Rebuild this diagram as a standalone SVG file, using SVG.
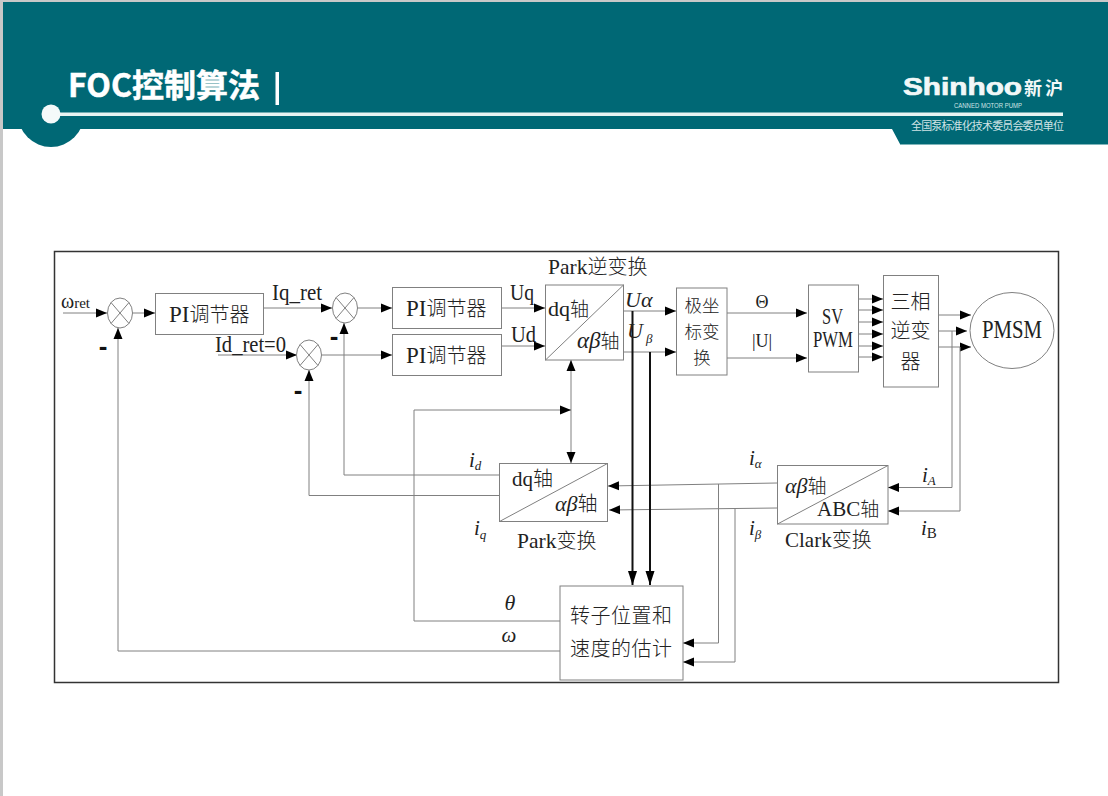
<svg xmlns="http://www.w3.org/2000/svg" width="1108" height="796" viewBox="0 0 1108 796">
<style>
.cn{fill:none;stroke:#808080;stroke-width:1}
.ar{marker-end:url(#a)}
.bk{fill:none;stroke:#111;stroke-width:2;marker-end:url(#b)}
.bx{fill:#fff;stroke:#808080;stroke-width:1}
.dg{fill:none;stroke:#808080;stroke-width:1}
text{font-family:"Liberation Serif","Noto Sans CJK SC",serif;fill:#222;font-size:20px;font-weight:300}
.it{font-style:italic}
.up{font-style:normal}
.md{text-anchor:middle}
.sm{font-size:13px}
.l{font-size:23px}
.ms{font-family:"Liberation Sans",sans-serif;font-weight:bold;font-size:26px;text-anchor:middle;fill:#111}
</style>
<defs>
<marker id="a" markerUnits="userSpaceOnUse" markerWidth="12" markerHeight="10" refX="11" refY="5" orient="auto"><path d="M0 0.500L11 5L0 9.500Z" fill="#000"/></marker>
<marker id="b" markerUnits="userSpaceOnUse" markerWidth="15" markerHeight="10" refX="14" refY="5" orient="auto"><path d="M0 0.500L14 5L0 9.500Z" fill="#000"/></marker>
<marker id="s" markerUnits="userSpaceOnUse" markerWidth="12" markerHeight="10" refX="11" refY="5" orient="auto-start-reverse"><path d="M0 0.500L11 5L0 9.500Z" fill="#000"/></marker>
</defs>
<rect width="1108" height="796" fill="#fff"/>
<rect x="0" y="0" width="3" height="796" fill="#c8c8c8"/>
<rect x="0" y="0" width="1108" height="2" fill="#c8c8c8"/>
<g id="header">
<circle cx="51" cy="114" r="33" fill="#006875"/>
<path d="M3 2H1108V144H900L892 129H3Z" fill="#006875"/>
<rect x="900" y="144" width="208" height="1" fill="#7fb5ba"/>
<rect x="51" y="112.500" width="1012" height="3.500" fill="#e8f4f2"/>
<circle cx="51" cy="114" r="9.500" fill="#f4fafa"/>
<text x="68" y="97" style="font-family:'Noto Sans CJK SC','Noto Sans',sans-serif;font-weight:700;font-size:32px;fill:#fff;stroke:#fff;stroke-width:.5">FOC控制算法</text>
<rect x="275.500" y="72" width="3.500" height="33" fill="#fff"/>
<text x="903" y="95" textLength="119" lengthAdjust="spacingAndGlyphs" style="font-family:'Liberation Sans',sans-serif;font-weight:bold;font-size:24px;fill:#f2f8f8;stroke:#f2f8f8;stroke-width:.7">Shinhoo</text>
<text x="1024" y="95" textLength="39" style="font-family:'Noto Sans CJK SC',sans-serif;font-weight:700;font-size:18px;fill:#f2f8f8">新沪</text>
<text x="954" y="107.500" textLength="68" lengthAdjust="spacingAndGlyphs" style="font-family:'Liberation Sans',sans-serif;font-size:7px;font-weight:400;fill:#d0e4e6">CANNED MOTOR PUMP</text>
<text x="911" y="130" textLength="153" style="font-family:'Noto Sans CJK SC',sans-serif;font-size:11px;font-weight:400;fill:#cfe3e5">全国泵标准化技术委员会委员单位</text>
</g>
<g id="frame"><rect x="54.500" y="251.500" width="1004" height="431" fill="#fff" stroke="#333" stroke-width="1.500"/></g>
<g id="connectors">
<path class="cn ar" d="M63 313H107"/>
<path class="cn ar" d="M132 313H155"/>
<path class="cn ar" d="M264 308H332"/>
<path class="cn ar" d="M357 308H392"/>
<path class="cn ar" d="M218 355H297"/>
<path class="cn ar" d="M322 355H392"/>
<path class="cn ar" d="M501 308H545"/>
<path class="cn ar" d="M501 346H545"/>
<path class="cn ar" d="M623 311H676"/>
<path class="cn ar" d="M623 352H676"/>
<path class="cn ar" d="M727 313H807"/>
<path class="cn ar" d="M727 358H807"/>
<path class="cn ar" d="M858 299H883"/>
<path class="cn ar" d="M858 310H883"/>
<path class="cn ar" d="M858 322H883"/>
<path class="cn ar" d="M858 334H883"/>
<path class="cn ar" d="M858 346H883"/>
<path class="cn ar" d="M858 357H883"/>
<path class="cn ar" d="M938 315H971"/>
<path class="cn ar" d="M938 331H967"/>
<path class="cn ar" d="M938 347H971"/>
<path class="cn ar" d="M952 331V487.500H888"/>
<path class="cn ar" d="M960 347V511H888"/>
<path class="cn ar" d="M777 483L608 486"/>
<path class="cn ar" d="M777 508L609 510"/>
<path class="cn ar" d="M499 475H344V323"/>
<path class="cn ar" d="M499 495.500H309V370"/>
<path class="cn" d="M571 360V463" style="marker-start:url(#s);marker-end:url(#s)"/>
<path class="cn ar" d="M560 621H414V410H571"/>
<path class="cn ar" d="M560 651H118V328"/>
<path class="bk" d="M632.500 311V585"/>
<path class="bk" d="M650 352V585"/>
<path class="cn ar" d="M718.500 484V643H683"/>
<path class="cn ar" d="M735 509V662H683"/>
</g>
<g id="sum1"><ellipse class="bx" cx="120" cy="313" rx="12.500" ry="15"/><path class="dg" d="M111 302.500L129 323.500M129 302.500L111 323.500"/></g>
<g id="sum2"><ellipse class="bx" cx="345" cy="308" rx="12.500" ry="15"/><path class="dg" d="M336 297.500L354 318.500M354 297.500L336 318.500"/></g>
<g id="sum3"><ellipse class="bx" cx="309" cy="355" rx="12.500" ry="15"/><path class="dg" d="M300 344.500L318 365.500M318 344.500L300 365.500"/></g>
<g id="pi1"><rect class="bx" x="155.500" y="293.500" width="108" height="41"/><text x="169" y="322"><tspan class="l">PI</tspan>调节器</text></g>
<g id="pi2"><rect class="bx" x="392.500" y="287.500" width="109" height="41"/><text x="406" y="316"><tspan class="l">PI</tspan>调节器</text></g>
<g id="pi3"><rect class="bx" x="392.500" y="334.500" width="109" height="41"/><text x="406" y="363"><tspan class="l">PI</tspan>调节器</text></g>
<g id="parkinv"><rect class="bx" x="545.500" y="285" width="78" height="75"/><path class="dg" d="M545.500 360L623.500 285"/>
<text x="548" y="316" style="font-size:19px"><tspan style="font-size:22px">dq</tspan>轴</text><text x="577" y="348" style="font-size:19px"><tspan class="it l">αβ</tspan>轴</text></g>
<g id="polar"><rect class="bx" x="676.500" y="288" width="50.500" height="87"/>
<text class="md" x="702" y="312" style="font-size:17.500px">极坐</text><text class="md" x="702" y="338" style="font-size:17.500px">标变</text><text class="md" x="702" y="364" style="font-size:17.500px">换</text></g>
<g id="svpwm"><rect class="bx" x="808.500" y="285" width="50" height="87"/>
<text x="822" y="324" textLength="21" lengthAdjust="spacingAndGlyphs" class="l">SV</text><text x="813" y="347" textLength="40" lengthAdjust="spacingAndGlyphs" class="l">PWM</text></g>
<g id="inverter"><rect class="bx" x="883.500" y="275.500" width="55" height="111.500"/>
<text class="md" x="910.500" y="309">三相</text><text class="md" x="910.500" y="338">逆变</text><text class="md" x="910.500" y="369">器</text></g>
<g id="pmsm"><ellipse class="bx" cx="1012" cy="330.500" rx="42" ry="38"/><text x="982" y="338" textLength="60" lengthAdjust="spacingAndGlyphs" style="font-size:25px">PMSM</text></g>
<g id="park"><rect class="bx" x="499.500" y="463.500" width="108" height="58"/><path class="dg" d="M499.500 521.500L607.500 463.500"/>
<text x="512" y="486"><tspan style="font-size:21px">dq</tspan>轴</text><text x="555" y="511"><tspan class="it" style="font-size:22px">αβ</tspan>轴</text></g>
<g id="clark"><rect class="bx" x="777.500" y="465.500" width="110.500" height="58.500"/><path class="dg" d="M777.500 524L888 465.500"/>
<text x="785" y="493" style="font-size:19px"><tspan class="it" style="font-size:22px">αβ</tspan>轴</text><text x="817" y="516" style="font-size:19px"><tspan style="font-size:21px">ABC</tspan>轴</text></g>
<g id="estimator"><rect class="bx" x="560" y="586" width="123" height="94"/>
<text x="570" y="623" style="letter-spacing:.5px">转子位置和</text><text x="570" y="656" style="letter-spacing:.5px">速度的估计</text></g>
<g id="labels">
<text x="61" y="308" style="font-size:20px">ω<tspan style="font-size:15px">ret</tspan></text>
<text x="272" y="300" textLength="50" lengthAdjust="spacingAndGlyphs" class="l">Iq_ret</text>
<text x="215" y="352" textLength="71" lengthAdjust="spacingAndGlyphs" class="l">Id_ret=0</text>
<text x="510" y="300" textLength="24" lengthAdjust="spacingAndGlyphs" class="l">Uq</text>
<text x="511" y="342" textLength="25" lengthAdjust="spacingAndGlyphs" class="l">Ud</text>
<text x="548" y="274"><tspan style="font-size:21.500px">Park</tspan>逆变换</text>
<text class="it" x="625" y="307" style="font-size:22px">Uα</text>
<text class="it" x="627" y="338" style="font-size:22px">U<tspan dx="3" dy="5" class="sm">β</tspan></text>
<text class="md" x="762" y="308" style="font-size:18px">Θ</text>
<text class="md" x="762" y="347" style="font-size:18px">|U|</text>
<text class="it" x="469" y="467" style="font-size:21px">i<tspan dy="3" class="sm">d</tspan></text>
<text class="it" x="474" y="535" style="font-size:21px">i<tspan dy="4" class="sm">q</tspan></text>
<text x="517" y="548"><tspan style="font-size:21.500px">Park</tspan>变换</text>
<text class="it" x="749" y="465" style="font-size:21px">i<tspan dy="3" class="sm">α</tspan></text>
<text class="it" x="749" y="535" style="font-size:21px">i<tspan dy="4" class="sm">β</tspan></text>
<text x="922" y="482" class="it" style="font-size:21px">i<tspan dy="3" class="sm">A</tspan></text>
<text x="921" y="535" class="it" style="font-size:21px">i<tspan dy="3" class="up" style="font-size:15px">B</tspan></text>
<text x="785" y="547"><tspan style="font-size:21px">Clark</tspan>变换</text>
<text class="it md" x="510" y="610" style="font-size:22px">θ</text>
<text class="it md" x="509" y="642" style="font-size:21px">ω</text>
<text class="ms" x="103" y="355">-</text>
<text class="ms" x="334" y="345">-</text>
<text class="ms" x="298" y="399">-</text>
</g>
</svg>
